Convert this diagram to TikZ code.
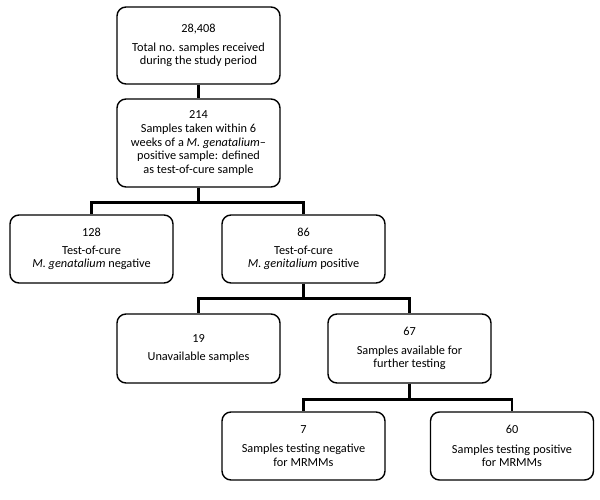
\documentclass[tikz,border=0pt]{standalone}
\usepackage{fontspec}
\setmainfont{Carlito}
\begin{document}
\begin{tikzpicture}[x=1pt,y=-1pt]
				\tikzstyle{Box} = [rectangle, draw, rounded corners=9pt, line width=1.4pt, minimum width=163, inner sep=0pt, align=center, font=\fontsize{12.3}{13.6}\selectfont]
				\tikzstyle{Link} = [line width=2.6pt]
				\useasboundingbox (0,0) rectangle (600,500);
				\node (1) at (198.5,45.5) [Box, minimum height=77, fill=white] {28,408\\[5pt]Total no. samples received\\during the study period};
				\node (2) at (198.5,143) [Box, minimum height=88, fill=white] {214\\Samples taken within 6\\weeks of a \textit{M. genatalium}--\\positive sample: defined\\as test-of-cure sample};
				\node (3) at (91.5,249) [Box, minimum height=68, fill=white] {128\\[4pt]Test-of-cure\\\textit{M. genatalium} negative};
				\node (4) at (303.5,249) [Box, minimum height=68, fill=white] {86\\[4pt]Test-of-cure\\\textit{M. genitalium} positive};
				\node (5) at (198.5,348.5) [Box, minimum height=69, fill=white] {19\\[5pt]Unavailable samples};
				\node (6) at (409.5,348.5) [Box, minimum height=69, fill=white] {67\\[5pt]Samples available for\\further testing};
				\node (7) at (303.5,446) [Box, minimum height=68, fill=white] {7\\[6pt]Samples testing negative\\for MRMMs};
				\node (8) at (512,446) [Box, minimum height=68, fill=white] {60\\[6pt]Samples testing positive\\for MRMMs};
				\draw [Link] (1) to (2);
				\draw [Link] (2.south) -- ++(0,15) -| (3.north);
				\draw [Link] (2.south) -- ++(0,15) -| (4.north);
				\draw [Link] (4.south) -- ++(0,15) -| (5.north);
				\draw [Link] (4.south) -- ++(0,15) -| (6.north);
				\draw [Link] (6.south) -- ++(0,16) -| (7.north);
				\draw [Link] (6.south) -- ++(0,16) -| (8.north);
			\end{tikzpicture}
\end{document}
